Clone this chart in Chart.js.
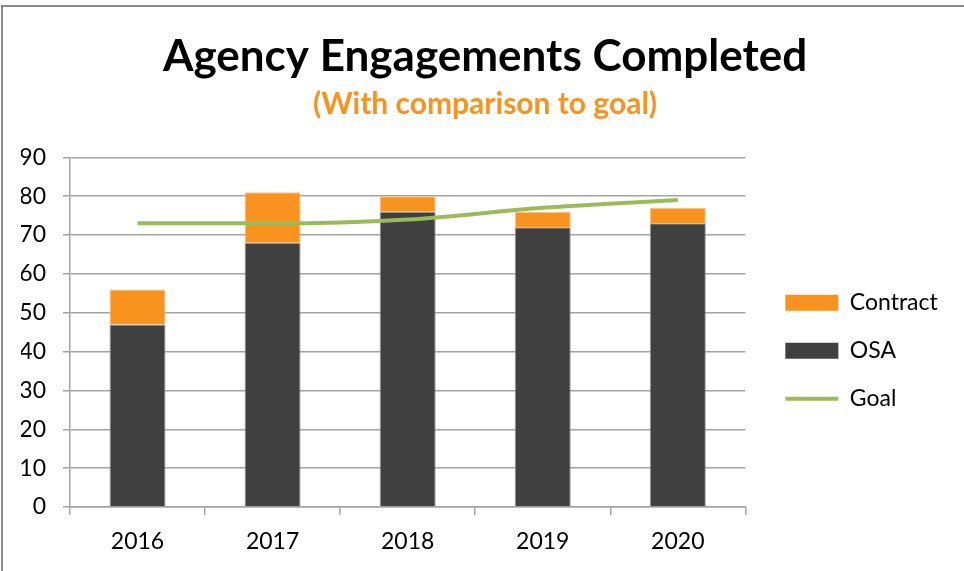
<!DOCTYPE html>
<html>
<head>
<meta charset="utf-8">
<script src="https://cdn.jsdelivr.net/npm/chart.js@4.4.1/dist/chart.umd.min.js"></script>
<style>
  html, body { margin: 0; padding: 0; background: #fff; }
  #wrap { position: relative; width: 964px; height: 571px; overflow: hidden; }
  #frame { position: absolute; left: 1px; top: 5px; width: 1000px; height: 700px;
           border-top: 2px solid #8a8a8a; border-left: 2px solid #8a8a8a; pointer-events: none; }
</style>
</head>
<body>
<div id="wrap">
  <canvas id="grafico" width="964" height="571"></canvas>
  <div id="frame"></div>
</div>
<script>
// Dados do gráfico
const anos = ['2016', '2017', '2018', '2019', '2020'];
const osa = [47, 68, 76, 72, 73];
const contract = [9, 13, 4, 4, 4];
const goal = [73, 73, 74, 77, 79];

const fonte = 'Lato, "Open Sans", sans-serif';
const corGrade = '#a3a3a3';

const ctx = document.getElementById('grafico').getContext('2d');

// A legenda mede a caixa pelo tamanho da fonte e não pelo pointStyleWidth,
// então alargamos a caixa da legenda na mão
const larguraLegenda = {
  id: 'larguraLegenda',
  beforeUpdate(chart) {
    const legenda = chart.legend;
    if (legenda && !legenda._ajustada) {
      const fitOriginal = legenda.fit;
      legenda.fit = function() {
        fitOriginal.call(this);
        this.width += 34;
      };
      legenda._ajustada = true;
    }
  }
};

new Chart(ctx, {
  type: 'bar',
  data: {
    labels: anos,
    datasets: [
      {
        label: 'OSA',
        data: osa,
        backgroundColor: '#404041',
        borderColor: 'rgba(140,140,140,0.9)',
        borderWidth: 1,
        order: 1,
        barPercentage: 0.415,
        categoryPercentage: 1
      },
      {
        label: 'Contract',
        data: contract,
        backgroundColor: '#f7931e',
        borderColor: 'rgba(250,190,120,0.9)',
        borderWidth: 1,
        order: 1,
        barPercentage: 0.415,
        categoryPercentage: 1
      },
      {
        type: 'line',
        label: 'Goal',
        data: goal,
        stack: 'goal',
        borderColor: '#9bbb59',
        backgroundColor: '#9bbb59',
        borderWidth: 4,
        pointRadius: 0,
        cubicInterpolationMode: 'monotone',
        order: 0
      }
    ]
  },
  plugins: [larguraLegenda],
  options: {
    responsive: false,
    animation: false,
    layout: { padding: { left: 21, right: 15, top: 20, bottom: 0 } },
    plugins: {
      title: {
        display: true,
        text: 'Agency Engagements Completed',
        color: '#000',
        font: { family: fonte, size: 44, weight: 'bold' },
        padding: { top: 10, bottom: 0 }
      },
      subtitle: {
        display: true,
        text: '(With comparison to goal)',
        color: '#f7931e',
        font: { family: fonte, size: 30, weight: 'bold' },
        padding: { top: 4, bottom: 34.5 }
      },
      legend: {
        position: 'right',
        // título vazio só para empurrar a legenda para baixo
        title: { display: true, text: ' ', font: { size: 28 }, padding: { top: 77, bottom: 0 } },
        labels: {
          color: '#000',
          font: { family: fonte, size: 23 },
          usePointStyle: true,
          pointStyleWidth: 53,
          boxHeight: 16,
          padding: 25,
          sort: (a, b) => ['Contract', 'OSA', 'Goal'].indexOf(a.text) - ['Contract', 'OSA', 'Goal'].indexOf(b.text),
          generateLabels: function(chart) {
            const itens = Chart.defaults.plugins.legend.labels.generateLabels(chart);
            itens.forEach(item => {
              if (item.text === 'Goal') {
                item.pointStyle = 'line';
                item.lineWidth = 4;
                item.strokeStyle = '#9bbb59';
              } else {
                item.pointStyle = 'rect';
                item.lineWidth = 0;
              }
            });
            return itens;
          }
        }
      },
      tooltip: { enabled: false }
    },
    scales: {
      x: {
        stacked: true,
        grid: { drawOnChartArea: false, color: corGrade, tickLength: 8, lineWidth: 1.5 },
        border: { color: corGrade, width: 1.5 },
        ticks: { color: '#000', font: { family: fonte, size: 23 }, padding: 13 },
        afterFit: function(scale) { scale.height = 64; }
      },
      y: {
        stacked: true,
        min: 0,
        max: 90,
        ticks: { stepSize: 10, color: '#000', font: { family: fonte, size: 23 }, padding: 17 },
        grid: { color: corGrade, tickLength: 7, lineWidth: 1.5 },
        border: { color: corGrade, width: 1.5 },
        afterFit: function(scale) { scale.width = 49; }
      },
      // eixo vazio só para abrir espaço entre o gráfico e a legenda
      espaco: {
        position: 'right',
        min: 0,
        max: 1,
        grid: { display: false },
        border: { display: false },
        ticks: { display: false },
        afterFit: function(scale) { scale.width = 15; }
      }
    }
  }
});
</script>
</body>
</html>
